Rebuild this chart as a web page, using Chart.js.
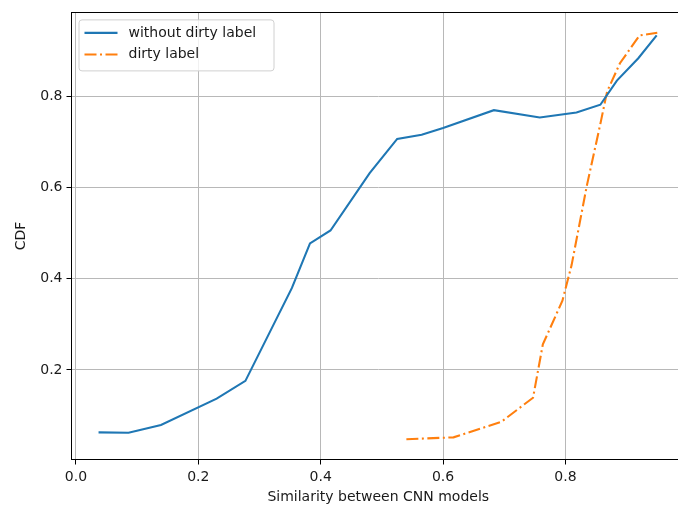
<!DOCTYPE html>
<html>
<head>
    <title>CDF of similarity between CNN models</title>
    <script src="https://cdn.jsdelivr.net/npm/chart.js"></script>
    <style>
        body {
            margin: 0;
            background: #fff;
            overflow: hidden;
        }

        .chart-box {
            width: 690px;
            height: 512px;
        }
    </style>
</head>
<body>
    <div class="chart-box">
        <canvas id="cdfChart" width="690" height="512"></canvas>
    </div>

    <script>
        // CDF curves
        const cleanX = [0.037, 0.086, 0.139, 0.230, 0.277, 0.353, 0.3825, 0.416, 0.480, 0.525, 0.565, 0.600, 0.683, 0.758, 0.818, 0.857, 0.884, 0.919, 0.949];
        const cleanY = [0.063, 0.062, 0.079, 0.137, 0.176, 0.380, 0.4775, 0.506, 0.632, 0.707, 0.716, 0.731, 0.770, 0.754, 0.765, 0.782, 0.835, 0.884, 0.934];

        const dirtyX = [0.540, 0.617, 0.695, 0.747, 0.763, 0.795, 0.810, 0.835, 0.857, 0.868, 0.889, 0.921, 0.950];
        const dirtyY = [0.048, 0.052, 0.086, 0.139, 0.256, 0.352, 0.430, 0.605, 0.740, 0.811, 0.873, 0.934, 0.940];

        const xTicks = [0.0, 0.2, 0.4, 0.6, 0.8];
        const yTicks = [0.2, 0.4, 0.6, 0.8];

        const FONT = 'DejaVu Sans';
        const TEXT = '#1a1a1a';

        const toPoints = (xs, ys) => xs.map((x, i) => ({ x: x, y: ys[i] }));

        // frame on all four sides, like matplotlib spines
        const framePlugin = {
            id: 'frame',
            afterDraw(chart) {
                const { ctx, chartArea: a } = chart;
                ctx.save();
                ctx.strokeStyle = '#000';
                ctx.lineWidth = 1;
                ctx.strokeRect(Math.floor(a.left) + 0.5, Math.floor(a.top) + 0.5,
                    Math.round(a.right - a.left), Math.round(a.bottom - a.top));
                ctx.restore();
            }
        };

        // legend box in the upper left corner of the plot
        const boxLegend = {
            id: 'boxLegend',
            afterDraw(chart) {
                const { ctx, chartArea: a } = chart;
                const x0 = a.left + 7, y0 = a.top + 7;
                const w = 195, h = 51;
                ctx.save();
                ctx.beginPath();
                ctx.roundRect(x0 + 0.5, y0 + 0.5, w, h, 3);
                ctx.fillStyle = 'rgba(255,255,255,0.8)';
                ctx.fill();
                ctx.strokeStyle = '#d0d0d0';
                ctx.lineWidth = 1;
                ctx.stroke();

                ctx.font = '14px "' + FONT + '"';
                ctx.textBaseline = 'middle';
                chart.data.datasets.forEach((ds, i) => {
                    const cy = y0 + 13.5 + i * 21.6;
                    ctx.beginPath();
                    ctx.setLineDash(ds.borderDash || []);
                    ctx.strokeStyle = ds.borderColor;
                    ctx.lineWidth = ds.borderWidth;
                    ctx.moveTo(x0 + 6, cy);
                    ctx.lineTo(x0 + 39, cy);
                    ctx.stroke();
                    ctx.setLineDash([]);
                    ctx.fillStyle = TEXT;
                    ctx.fillText(ds.label, x0 + 50, cy);
                });
                ctx.restore();
            }
        };

        new Chart(document.getElementById('cdfChart'), {
            type: 'line',
            data: {
                datasets: [{
                    label: 'without dirty label',
                    data: toPoints(cleanX, cleanY),
                    borderColor: '#1f77b4',
                    borderWidth: 2.1,
                    pointRadius: 0,
                    tension: 0
                }, {
                    label: 'dirty label',
                    data: toPoints(dirtyX, dirtyY),
                    borderColor: '#ff7f0e',
                    borderWidth: 2.1,
                    borderDash: [12, 3.5, 2, 3.5],
                    pointRadius: 0,
                    tension: 0
                }]
            },
            options: {
                responsive: false,
                animation: false,
                devicePixelRatio: 1,
                layout: {
                    padding: { left: 0, right: 5, top: 11, bottom: 0 }
                },
                plugins: {
                    legend: { display: false },
                    tooltip: { enabled: false }
                },
                scales: {
                    x: {
                        type: 'linear',
                        min: -0.0072,
                        max: 0.9953,
                        afterBuildTicks: s => { s.ticks = xTicks.map(v => ({ value: v })); },
                        afterFit: s => { s.height = 52.5; },
                        grid: {
                            color: '#b8b8b8',
                            lineWidth: 1,
                            tickColor: '#000',
                            tickLength: 5
                        },
                        border: { display: false },
                        ticks: {
                            color: TEXT,
                            font: { family: FONT, size: 14 },
                            padding: 4,
                            maxRotation: 0,
                            callback: v => v.toFixed(1)
                        },
                        title: {
                            display: true,
                            text: 'Similarity between CNN models',
                            color: TEXT,
                            font: { family: FONT, size: 14 },
                            padding: { top: 0, bottom: 6 }
                        }
                    },
                    y: {
                        min: 0.0034,
                        max: 0.9846,
                        afterBuildTicks: s => { s.ticks = yTicks.map(v => ({ value: v })); },
                        afterFit: s => { s.width = 71.5; },
                        grid: {
                            color: '#b8b8b8',
                            lineWidth: 1,
                            tickColor: '#000',
                            tickLength: 5
                        },
                        border: { display: false },
                        ticks: {
                            color: TEXT,
                            font: { family: FONT, size: 14 },
                            padding: 4,
                            callback: v => v.toFixed(1)
                        },
                        title: {
                            display: true,
                            text: 'CDF',
                            color: TEXT,
                            font: { family: FONT, size: 14 },
                            padding: { top: 12.6, bottom: 0 }
                        }
                    }
                }
            },
            plugins: [framePlugin, boxLegend]
        });
    </script>
</body>
</html>
